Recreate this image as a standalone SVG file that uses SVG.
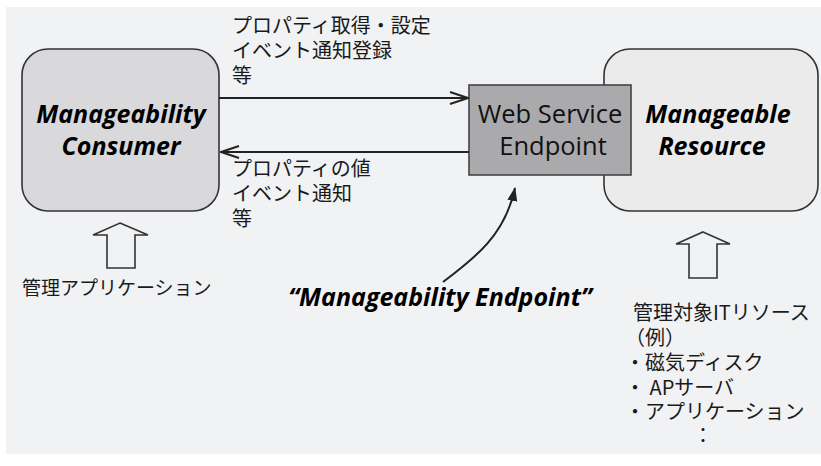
<svg xmlns="http://www.w3.org/2000/svg" width="821" height="466" viewBox="0 0 821 466">
  <style>
    .jp { font-family: "Noto Sans CJK JP", "Open Sans", sans-serif; font-size: 20px; fill: #1a1a1a; }
    .bi { font-family: "Open Sans", "Liberation Sans", sans-serif; font-weight: bold; font-style: italic; font-size: 25px; fill: #000; }
    .rg { font-family: "Open Sans", "Liberation Sans", sans-serif; font-size: 25.5px; fill: #111; }
    .line { stroke: #222; stroke-width: 2; fill: none; }
    .hollow { fill: #f1f2f4; stroke: #333; stroke-width: 1.6; stroke-linejoin: miter; }
  </style>
  <defs>
    <marker id="openHead" viewBox="0 0 20 14" refX="19" refY="7" markerWidth="20" markerHeight="14" markerUnits="userSpaceOnUse" orient="auto">
      <path d="M1,1 L19,7 L1,13" fill="none" stroke="#222" stroke-width="2"/>
    </marker>
    <marker id="solidHead" viewBox="0 0 14 10" refX="13" refY="5" markerWidth="14" markerHeight="10" markerUnits="userSpaceOnUse" orient="auto">
      <path d="M0,0 L14,5 L0,10 Z" fill="#222"/>
    </marker>
  </defs>

  <!-- backdrop -->
  <rect x="0" y="0" width="821" height="466" fill="#ffffff"/>
  <rect x="6" y="7" width="815" height="447" fill="#f1f2f4"/>

  <g id="consumer">
    <rect x="22" y="49" width="197" height="162" rx="26" ry="26" fill="#d9d9db" stroke="#333" stroke-width="1.6"/>
    <text class="bi" x="121" y="123" text-anchor="middle">Manageability</text>
    <text class="bi" x="121" y="155" text-anchor="middle">Consumer</text>
  </g>

  <g id="resource">
    <rect x="604" y="49" width="214" height="162" rx="26" ry="26" fill="#ebebeb" stroke="#333" stroke-width="1.6"/>
    <text class="bi" x="718" y="123" text-anchor="middle">Manageable</text>
    <text class="bi" x="712" y="155" text-anchor="middle">Resource</text>
  </g>

  <g id="endpoint">
    <rect x="469" y="85" width="162" height="90" fill="#aaaaad" stroke="#444" stroke-width="1.6"/>
    <text class="rg" x="550" y="123" text-anchor="middle">Web Service</text>
    <text class="rg" x="553" y="155" text-anchor="middle">Endpoint</text>
  </g>

  <g id="connectors">
    <line class="line" x1="219" y1="98" x2="468" y2="98" marker-end="url(#openHead)"/>
    <line class="line" x1="469" y1="152" x2="221" y2="152" marker-end="url(#openHead)"/>
    <path class="line" d="M443,282 C475,258 505,235 515,188" stroke-width="1.6" marker-end="url(#solidHead)"/>
  </g>

  <g id="consumer-input">
    <path class="hollow" d="M120,223 L148,235 L135,235 L135,268 L107,268 L107,235 L93,235 Z"/>
    <text class="jp" x="22" y="295" style="font-size:19px">管理アプリケーション</text>
  </g>

  <g id="resource-input">
    <path class="hollow" d="M703,232 L730,244 L717,244 L717,278 L689,278 L689,244 L676,244 Z"/>
  </g>

  <g id="request-label">
    <text class="jp" x="232" y="33">プロパティ取得・設定</text>
    <text class="jp" x="232" y="58">イベント通知登録</text>
    <text class="jp" x="232" y="83">等</text>
  </g>

  <g id="response-label">
    <text class="jp" x="232" y="176">プロパティの値</text>
    <text class="jp" x="232" y="201">イベント通知</text>
    <text class="jp" x="232" y="226">等</text>
  </g>

  <g id="endpoint-label">
    <text class="bi" x="440" y="306" text-anchor="middle">“Manageability Endpoint”</text>
  </g>

  <g id="resource-label">
    <text class="jp" x="633" y="320">管理対象ITリソース</text>
    <text class="jp" x="625" y="345">（例）</text>
    <text class="jp" x="625" y="370">・磁気ディスク</text>
    <text class="jp" x="625" y="395">・ APサーバ</text>
    <text class="jp" x="625" y="419">・アプリケーション</text>
    <text class="jp" x="703" y="443" text-anchor="middle">：</text>
  </g>
</svg>
